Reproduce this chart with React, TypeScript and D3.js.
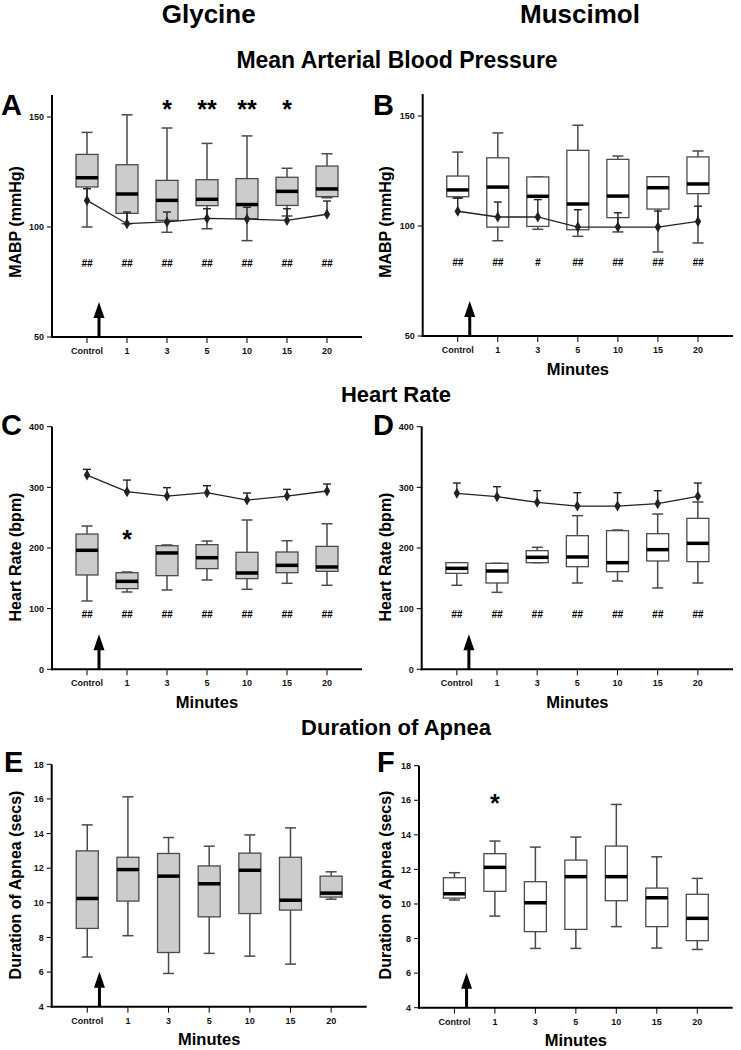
import React from "react";
import * as d3 from "d3";

const FONT = "'Liberation Sans', Arial, Helvetica, sans-serif";

const categories = ["Control", "1", "3", "5", "10", "15", "20"];

// Panel A – Glycine MABP
const aHigh = [143, 151, 145, 138, 141.4, 126.7, 133.3];
const aQ3 = [133, 128.3, 121.2, 121.5, 122, 122.6, 127.7];
const aMed = [122.4, 115, 112.1, 112.6, 110.2, 116.2, 117.3];
const aQ1 = [118.2, 106.2, 103, 109.7, 103.8, 109.8, 113.8];
const aLow = [100, 101.5, 97.6, 99.2, 93.8, 105, 113.3];
const aMean = [112.1, 101.5, 102.3, 103.9, 103.6, 103, 105.8];
const aErr = [5.3, 5.3, 4.5, 4.4, 5.4, 5.3, 6];
const aStars = ["", "", "*", "**", "**", "*", ""];
const aHash = ["##", "##", "##", "##", "##", "##", "##"];

// Panel B – Muscimol MABP
const bHigh = [133.6, 142.3, 122.3, 145.8, 131.8, 122.4, 134.1];
const bQ3 = [122.7, 131, 122.3, 134.4, 130.3, 122.4, 131.4];
const bMed = [116.4, 117.7, 113.5, 110, 113.6, 117.4, 119.1];
const bQ1 = [113.3, 99.5, 99.8, 98.3, 103.8, 107.7, 114.7];
const bLow = [112.7, 93.3, 98.5, 95.3, 97.3, 88.2, 92.3];
const bMean = [106.7, 104.1, 104.1, 99.5, 99.5, 99.5, 102.1];
const bErr = [6, 6.8, 7.9, 7.9, 6.5, 7.3, 6.9];
const bHash = ["##", "##", "#", "##", "##", "##", "##"];

// Panel C – Glycine heart rate
const cHigh = [236.3, 160.4, 205, 211.5, 246.2, 212, 240];
const cQ3 = [223, 159.3, 203.8, 205.5, 192.9, 193.4, 202.7];
const cMed = [196.2, 145, 191.8, 184, 158.8, 171.4, 168.7];
const cQ1 = [155.5, 133, 154.4, 166, 149.5, 159.3, 161.5];
const cLow = [112.6, 127.5, 130.8, 147.3, 131.9, 141.8, 138.5];
const cMean = [320.3, 292.9, 285.7, 291.2, 279.1, 285.7, 294];
const cErr = [9.4, 19.1, 13.8, 11.5, 11.6, 11, 11.5];
const cStars = ["", "*", "", "", "", "", ""];
const cHash = ["##", "##", "##", "##", "##", "##", "##"];

// Panel D – Muscimol heart rate
const dHigh = [175.8, 174.7, 201.1, 253.3, 229.7, 256, 275.8];
const dQ3 = [175.8, 174.7, 195.6, 220.3, 228.6, 223.6, 248.9];
const dMed = [166.5, 162.1, 184.6, 185.2, 175.8, 197.3, 207.7];
const dQ1 = [158.2, 142.3, 175.8, 169.2, 161, 178.6, 177.5];
const dLow = [138.5, 126.9, 175.8, 142.3, 145.6, 134.1, 142.3];
const dMean = [290.1, 284.6, 275.3, 269.2, 269.2, 273.1, 285.2];
const dErr = [17, 16.5, 19.2, 22, 22, 21.4, 21.9];
const dHash = ["##", "##", "##", "##", "##", "##", "##"];

// Panel E – Glycine apnea
const eHigh = [14.5, 16.12, 13.77, 13.27, 13.92, 14.33, 11.79];
const eQ3 = [13, 12.63, 12.85, 12.13, 12.87, 12.63, 11.54];
const eMed = [10.25, 11.92, 11.54, 11.1, 11.88, 10.15, 10.56];
const eQ1 = [8.52, 10.1, 7.13, 9.19, 9.38, 9.58, 10.33];
const eLow = [6.87, 8.1, 5.92, 7.08, 6.92, 6.46, 10.21];

// Panel F – Muscimol apnea
const fHigh = [11.81, 13.64, 13.29, 13.87, 15.76, 12.73, 11.48];
const fQ3 = [11.52, 12.91, 11.29, 12.54, 13.35, 10.92, 10.56];
const fMed = [10.59, 12.12, 10.07, 11.58, 11.58, 10.36, 9.17];
const fQ1 = [10.34, 10.73, 8.4, 8.53, 10.19, 8.69, 7.88];
const fLow = [10.23, 9.3, 7.43, 7.43, 8.69, 7.45, 7.37];
const fStars = ["", "*", "", "", "", "", ""];

const mabpTicks = [50, 100, 150];
const hrTicks = [0, 100, 200, 300, 400];
const apneaTicks = [4, 6, 8, 10, 12, 14, 16, 18];

type Cfg = {
  letter: string;
  letterX: number;
  letterY: number;
  x0: number;
  x1: number;
  yb: number;
  yt: number;
  domain: [number, number];
  ticks: number[];
  yLabel: string;
  yLabelX: number;
  yLabelY: number;
  showMinutes: boolean;
  fill: string;
  high: number[];
  q3: number[];
  med: number[];
  q1: number[];
  low: number[];
  mean?: number[];
  err?: number[];
  stars?: string[];
  starVal?: number;
  hash?: string[];
  hashVal?: number;
};

function Panel({ c }: { c: Cfg }) {
  const x = d3.scalePoint<string>().domain(categories).range([c.x0, c.x1]).padding(0.875);
  const y = d3.scaleLinear().domain(c.domain).range([c.yb, c.yt]);
  const boxW = 22;
  const capW = 11;
  const errCap = 8;
  const base = y(c.domain[0]);
  const ax = (x("Control") as number) + x.step() * 0.3;
  const tip = base - 35;
  const line = d3
    .line<number>()
    .x((_, i) => x(categories[i]) as number)
    .y((d) => y(d));
  const stroke = "#4a4a4a";
  return (
    <g>
      <text x={c.letterX} y={c.letterY} fontFamily={FONT} fontWeight="bold" fontSize={29} fill="#000">
        {c.letter}
      </text>
      <text
        transform={`translate(${c.yLabelX},${c.yLabelY}) rotate(-90)`}
        textAnchor="middle"
        fontFamily={FONT}
        fontWeight="bold"
        fontSize={16}
        fill="#000"
      >
        {c.yLabel}
      </text>
      {categories.map((cat, i) => {
        const cx = x(cat) as number;
        return (
          <g key={cat}>
            <line x1={cx} x2={cx} y1={y(c.q3[i])} y2={y(c.high[i])} stroke={stroke} strokeWidth={1.5} />
            <line x1={cx - capW / 2} x2={cx + capW / 2} y1={y(c.high[i])} y2={y(c.high[i])} stroke={stroke} strokeWidth={1.5} />
            <line x1={cx} x2={cx} y1={y(c.q1[i])} y2={y(c.low[i])} stroke={stroke} strokeWidth={1.5} />
            <line x1={cx - capW / 2} x2={cx + capW / 2} y1={y(c.low[i])} y2={y(c.low[i])} stroke={stroke} strokeWidth={1.5} />
            <rect
              x={cx - boxW / 2}
              y={y(c.q3[i])}
              width={boxW}
              height={Math.max(0.5, y(c.q1[i]) - y(c.q3[i]))}
              fill={c.fill}
              stroke={stroke}
              strokeWidth={1.3}
            />
            <line x1={cx - boxW / 2} x2={cx + boxW / 2} y1={y(c.med[i])} y2={y(c.med[i])} stroke="#000" strokeWidth={3.5} />
          </g>
        );
      })}
      {c.mean && (
        <g>
          <path d={line(c.mean) || ""} fill="none" stroke="#222" strokeWidth={1.3} />
          {c.mean.map((m, i) => {
            const cx = x(categories[i]) as number;
            const yt = y(m + (c.err ? c.err[i] : 0));
            return (
              <g key={i}>
                <line x1={cx} x2={cx} y1={y(m)} y2={yt} stroke="#222" strokeWidth={1.4} />
                <line x1={cx - errCap / 2} x2={cx + errCap / 2} y1={yt} y2={yt} stroke="#222" strokeWidth={1.4} />
                <path
                  d={`M${cx},${y(m) - 5.5} L${cx + 3.2},${y(m)} L${cx},${y(m) + 5.5} L${cx - 3.2},${y(m)} Z`}
                  fill="#222"
                />
              </g>
            );
          })}
        </g>
      )}
      {c.stars &&
        c.stars.map((s, i) =>
          s ? (
            <text
              key={i}
              x={x(categories[i]) as number}
              y={y(c.starVal as number) + 13}
              textAnchor="middle"
              fontFamily={FONT}
              fontWeight="bold"
              fontSize={25}
              fill="#000"
            >
              {s}
            </text>
          ) : null
        )}
      {c.hash &&
        c.hash.map((h, i) => (
          <text
            key={i}
            x={x(categories[i]) as number}
            y={y(c.hashVal as number) + 3.5}
            textAnchor="middle"
            fontFamily={FONT}
            fontWeight="bold"
            fontStyle="italic"
            fontSize={10}
            fill="#000"
          >
            {h}
          </text>
        ))}
      <line x1={ax} x2={ax} y1={base} y2={tip + 13} stroke="#000" strokeWidth={3} />
      <path d={`M${ax},${tip} L${ax + 5.5},${tip + 16} L${ax - 5.5},${tip + 16} Z`} fill="#000" />
      <line x1={c.x0} x2={c.x0} y1={base + 1} y2={y(c.domain[1])} stroke="#000" strokeWidth={2} />
      <line x1={c.x0 - 1} x2={c.x1} y1={base} y2={base} stroke="#000" strokeWidth={2} />
      {c.ticks.map((t) => (
        <g key={t}>
          <line x1={c.x0 - 5} x2={c.x0} y1={y(t)} y2={y(t)} stroke="#000" strokeWidth={1} />
          <text
            x={c.x0 - 8}
            y={y(t) + 3.2}
            textAnchor="end"
            fontFamily={FONT}
            fontWeight="bold"
            fontSize={9}
            fill="#111"
          >
            {t}
          </text>
        </g>
      ))}
      {categories.map((cat) => (
        <g key={cat}>
          <line x1={x(cat) as number} x2={x(cat) as number} y1={base} y2={base + 6} stroke="#000" strokeWidth={1} />
          <text
            x={x(cat) as number}
            y={base + 17}
            textAnchor="middle"
            fontFamily={FONT}
            fontWeight="bold"
            fontSize={9}
            fill="#111"
          >
            {cat}
          </text>
        </g>
      ))}
      {c.showMinutes && (
        <text
          x={(c.x0 + c.x1) / 2}
          y={base + 38.5}
          textAnchor="middle"
          fontFamily={FONT}
          fontWeight="bold"
          fontSize={16.5}
          fill="#000"
        >
          Minutes
        </text>
      )}
    </g>
  );
}

const panels: Cfg[] = [
  {
    letter: "A", letterX: 1, letterY: 115, x0: 52, x1: 362, yb: 337, yt: 95, domain: [50, 160], ticks: mabpTicks,
    yLabel: "MABP (mmHg)", yLabelX: 21, yLabelY: 222, showMinutes: false, fill: "#cccccc",
    high: aHigh, q3: aQ3, med: aMed, q1: aQ1, low: aLow, mean: aMean, err: aErr,
    stars: aStars, starVal: 155.3, hash: aHash, hashVal: 83.6,
  },
  {
    letter: "B", letterX: 373, letterY: 115, x0: 422.7, x1: 733, yb: 336, yt: 94, domain: [50, 160], ticks: mabpTicks,
    yLabel: "MABP (mmHg)", yLabelX: 391, yLabelY: 222, showMinutes: true, fill: "#ffffff",
    high: bHigh, q3: bQ3, med: bMed, q1: bQ1, low: bLow, mean: bMean, err: bErr,
    hash: bHash, hashVal: 83.6,
  },
  {
    letter: "C", letterX: 1, letterY: 435, x0: 52, x1: 362, yb: 669.3, yt: 426.7, domain: [0, 400], ticks: hrTicks,
    yLabel: "Heart Rate (bpm)", yLabelX: 21, yLabelY: 557, showMinutes: true, fill: "#cccccc",
    high: cHigh, q3: cQ3, med: cMed, q1: cQ1, low: cLow, mean: cMean, err: cErr,
    stars: cStars, starVal: 221, hash: cHash, hashVal: 91,
  },
  {
    letter: "D", letterX: 373, letterY: 435, x0: 421.7, x1: 733, yb: 669.3, yt: 426.7, domain: [0, 400], ticks: hrTicks,
    yLabel: "Heart Rate (bpm)", yLabelX: 391, yLabelY: 557, showMinutes: true, fill: "#ffffff",
    high: dHigh, q3: dQ3, med: dMed, q1: dQ1, low: dLow, mean: dMean, err: dErr,
    hash: dHash, hashVal: 91,
  },
  {
    letter: "E", letterX: 4, letterY: 772, x0: 51.7, x1: 366.7, yb: 1006.7, yt: 764.3, domain: [4, 18], ticks: apneaTicks,
    yLabel: "Duration of Apnea (secs)", yLabelX: 21, yLabelY: 885, showMinutes: true, fill: "#cccccc",
    high: eHigh, q3: eQ3, med: eMed, q1: eQ1, low: eLow,
  },
  {
    letter: "F", letterX: 377, letterY: 772, x0: 419, x1: 732.7, yb: 1007.7, yt: 765.7, domain: [4, 18], ticks: apneaTicks,
    yLabel: "Duration of Apnea (secs)", yLabelX: 391, yLabelY: 885, showMinutes: true, fill: "#ffffff",
    high: fHigh, q3: fQ3, med: fMed, q1: fQ1, low: fLow,
    stars: fStars, starVal: 16.1,
  },
];

export default function App() {
  return (
    <svg
      width={741}
      height={1050}
      viewBox="0 0 741 1050"
      style={{ position: "absolute", left: 0, top: 0, background: "#fff" }}
    >
      <rect x={0} y={0} width={741} height={1050} fill="#fff" />
      <text x={208.7} y={23} textAnchor="middle" fontFamily={FONT} fontWeight="bold" fontSize={26} fill="#000">
        Glycine
      </text>
      <text x={580} y={23} textAnchor="middle" fontFamily={FONT} fontWeight="bold" fontSize={26} fill="#000">
        Muscimol
      </text>
      <text x={397} y={68} textAnchor="middle" fontFamily={FONT} fontWeight="bold" fontSize={23} fill="#000">
        Mean Arterial Blood  Pressure
      </text>
      <text x={396} y={402} textAnchor="middle" fontFamily={FONT} fontWeight="bold" fontSize={22} fill="#000">
        Heart Rate
      </text>
      <text x={396} y={735} textAnchor="middle" fontFamily={FONT} fontWeight="bold" fontSize={22} fill="#000">
        Duration of Apnea
      </text>
      {panels.map((p) => (
        <Panel key={p.letter} c={p} />
      ))}
    </svg>
  );
}
